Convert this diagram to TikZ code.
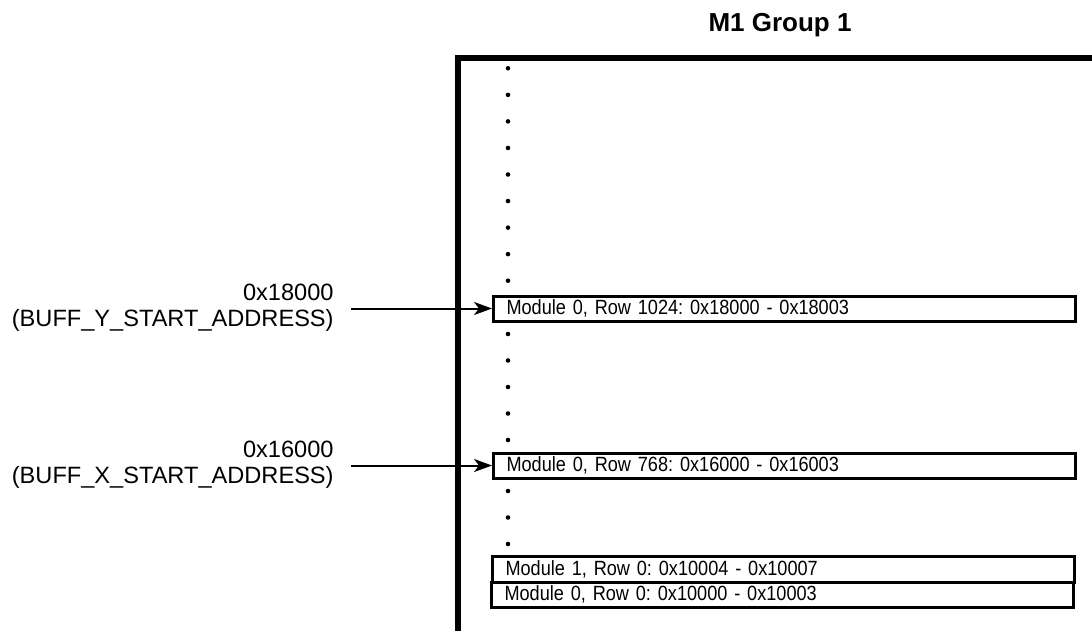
\documentclass[tikz,border=0pt]{standalone}
\usepackage{fontspec}
\setmainfont{Liberation Sans}
\newfontfamily\rowfont[FakeStretch=0.88]{Liberation Sans}
\usetikzlibrary{arrows.meta,positioning}
\tikzset{
  rowbox/.style    = {draw, line width=1.5pt, anchor=west, minimum height=12.5pt,
                      text width=278pt, inner xsep=6.5pt, inner ysep=0pt,
                      align=left, font=\rowfont\fontsize{10.3}{11}\selectfont},
  addrlabel/.style = {anchor=east, align=right, inner sep=0pt,
                      font=\fontsize{11.8}{13}\selectfont},
  vdot/.style      = {fill, radius=1.15pt},
  sig/.style       = {-{Stealth[length=9pt,width=6.5pt,inset=2.5pt]}, line width=1pt},
}

\begin{document}
\frenchspacing
\begin{tikzpicture}[x=0.5pt, y=-0.5pt]
\useasboundingbox (0,0) rectangle (1092,631);
% ---- title ----
\node[font=\bfseries\fontsize{13}{15}\selectfont] (title) at (780,25) {M1 Group 1};
% ---- memory frame ----
\draw[line width=2.75pt] (458,640) -- (458,58) -- (1100,58);
% ---- ellipsis dots ----
\foreach \i in {0,...,8}
  \fill[vdot] (508,{68.3+26.55*\i}) circle;
\foreach \y in {334,360.5,387,413.5,440}
  \fill[vdot] (508,\y) circle;
\foreach \y in {491,517.5,544}
  \fill[vdot] (508,\y) circle;
% ---- rows ----
\node[rowbox] (mod0r1024) at (492,308.5) {Module 0, Row 1024: 0x18000 - 0x18003};
\node[rowbox] (mod0r768) at (492,465.5) {Module 0, Row 768: 0x16000 - 0x16003};
\node[rowbox, minimum height=13pt] (mod1r0) at (491,569) {Module 1, Row 0: 0x10004 - 0x10007};
\node[rowbox] (mod0r0) at (490,594.5) {Module 0, Row 0: 0x10000 - 0x10003};
% ---- start addresses ----
\node[addrlabel] (ylab) at (334,308) {0x18000\\(BUFF\_Y\_START\_ADDRESS)};
\node[addrlabel] (xlab) at (334,465) {0x16000\\(BUFF\_X\_START\_ADDRESS)};
\draw[sig] (mod0r1024.west -| ylab.east) ++(8.5pt,0) -- (mod0r1024.west);
\draw[sig] (mod0r768.west -| xlab.east) ++(8.5pt,0) -- (mod0r768.west);
\end{tikzpicture}
\end{document}
